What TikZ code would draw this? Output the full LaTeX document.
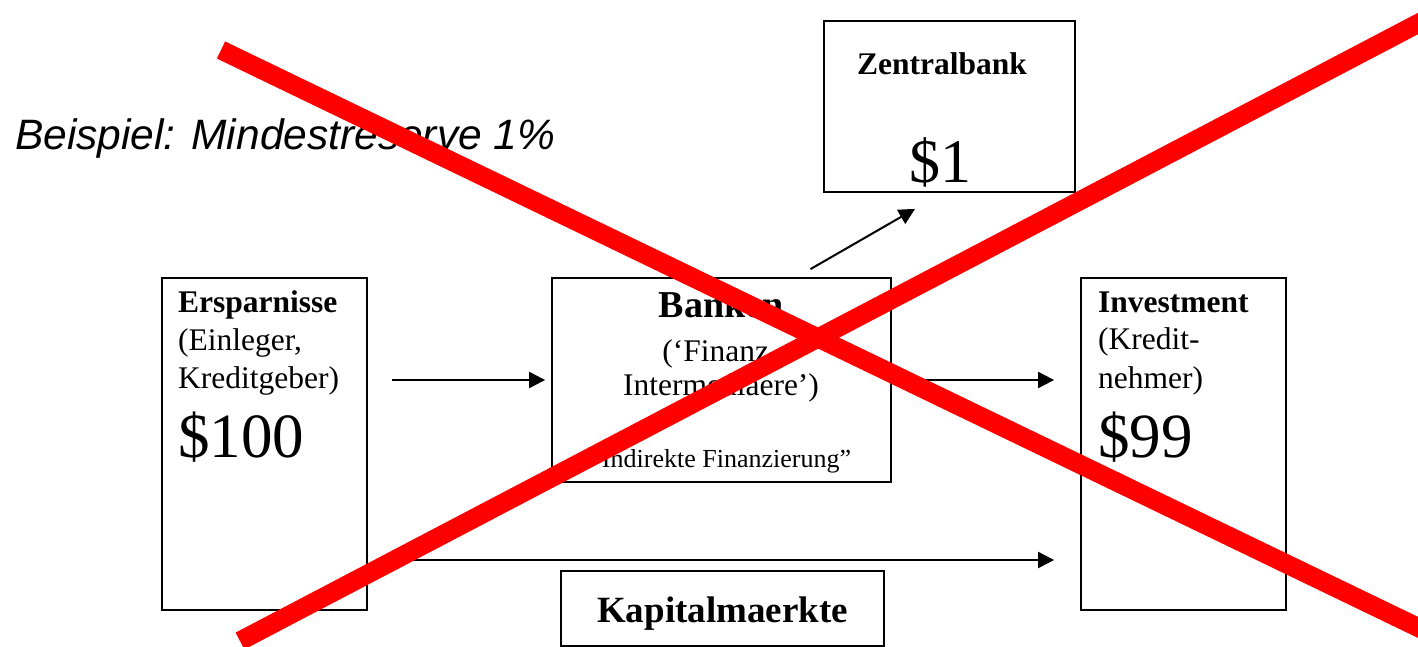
\documentclass[tikz,border=0pt]{standalone}
\usepackage{fontspec}
\setmainfont{Liberation Serif}
\newfontfamily\arialfont{Liberation Sans}
\usetikzlibrary{arrows.meta,calc}
\definecolor{crossred}{RGB}{255,0,0}
\begin{document}
\begin{tikzpicture}[x=1pt,y=-1pt,
  box/.style={draw=black,line width=1.8pt,inner sep=0pt},
  txt/.style={inner sep=0pt,text=black},
  lab/.style={txt,font=\bfseries\fontsize{31.5}{36}\selectfont},
  sub/.style={txt,font=\fontsize{31.5}{36}\selectfont},
  big/.style={txt,font=\fontsize{63}{70}\selectfont},
  arr/.style={line width=2pt,-{Triangle[length=16pt,width=16pt]}},
  cross/.style={draw=crossred,line width=19pt,line cap=butt}]
\useasboundingbox (0,0) rectangle (1418,647);
\clip (0,0) rectangle (1418,647);
\fill[white] (0,0) rectangle (1418,647);

% title
\node[txt,anchor=base west,font=\arialfont\itshape\fontsize{42.5}{48}\selectfont] (title) at (15,150) {Beispiel: Mindestreserve 1\%};

% boxes
\node[box,minimum width=205pt,minimum height=332pt] (ersp) at (264.5,444) {};
\node[box,minimum width=339pt,minimum height=204pt] (bank) at (721.5,380) {};
\node[box,minimum width=205pt,minimum height=332pt] (inv) at (1183.5,444) {};
\node[box,minimum width=251pt,minimum height=171pt] (zb) at (949.5,106.5) {};
\node[box,minimum width=323pt,minimum height=75pt] (kap) at (722.5,608.5) {};

% Ersparnisse text
\node[lab,anchor=base west] (erspT1) at (178,312) {Ersparnisse};
\node[sub,anchor=base west] (erspT2) at (178,350) {(Einleger,};
\node[sub,anchor=base west] (erspT3) at (178,388) {Kreditgeber)};
\node[big,anchor=base west] (erspV) at (178,457) {\$100};

% Investment text
\node[lab,anchor=base west] (invT1) at (1098,312) {Investment};
\node[sub,anchor=base west] (invT2) at (1098,349) {(Kredit-};
\node[sub,anchor=base west] (invT3) at (1098,388) {nehmer)};
\node[big,anchor=base west] (invV) at (1098,457) {\$99};

% Banken text
\node[txt,anchor=base,font=\bfseries\fontsize{38}{42}\selectfont] (bankT1) at (721,317) {Banken};
\node[sub,anchor=base] (bankT2) at (721,361) {(‘Finanz-};
\node[sub,anchor=base] (bankT3) at (721,395) {Intermediaere’)};
\node[txt,anchor=base,font=\fontsize{26}{30}\selectfont] (bankT4) at (711,467) {– “Indirekte Finanzierung”};

% Zentralbank text
\node[lab,anchor=base] (zbT) at (942,75) {Zentralbank};
\node[txt,anchor=base,font=\fontsize{62}{70}\selectfont] (zbV) at (940,183) {\$1};

% Kapitalmaerkte text
\node[txt,anchor=base,font=\bfseries\fontsize{37}{42}\selectfont] (kapT) at (722.5,622) {Kapitalmaerkte};

% arrows
\draw[arr] ($(ersp.east|-bank.west)+(24,0)$) -- ($(bank.west)+(-6,0)$);
\draw[arr] (bank.east) -- ($(inv.west|-bank.east)+(-26,0)$);
\draw[arr] ([yshift=-116pt,xshift=24pt]ersp.east) -- ([yshift=-116pt,xshift=-26pt]inv.west);
\draw[arr] ($(bank.north)+(89,-8)$) -- ($(zb.south)+(-34.5,16)$);

% red cross
\coordinate (c1a) at (221,50);
\coordinate (c1b) at (1440,638);
\coordinate (c2a) at (240,641);
\coordinate (c2b) at (1440,12);
\draw[cross] (c1a) -- (c1b);
\draw[cross] (c2a) -- (c2b);
\end{tikzpicture}
\end{document}
